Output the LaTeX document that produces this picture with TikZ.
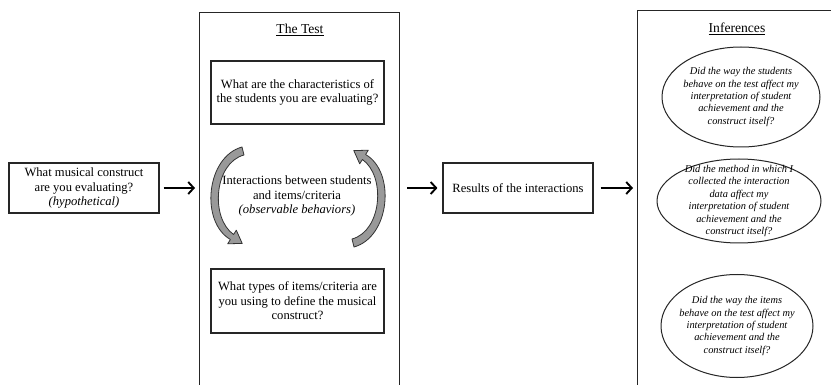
\documentclass[tikz,border=0pt]{standalone}
\usepackage{fontspec}
\setmainfont{Liberation Serif}
\usetikzlibrary{arrows.meta,shapes.geometric}
\begin{document}
\begin{tikzpicture}[x=1pt,y=-1pt,
  box/.style={draw=black!85, line width=1.1pt, fill=white, align=center, font=\fontsize{12.6}{14.6}\selectfont, inner sep=0pt},
  frame/.style={draw=black!85, line width=1.1pt, inner sep=0pt},
  plain/.style={align=center, font=\fontsize{12.6}{14.8}\selectfont},
  ell/.style={draw=black!85, line width=1pt, ellipse, align=center, font=\fontsize{10.4}{12.4}\selectfont\itshape, inner xsep=-40pt, inner ysep=-30pt},
  arr/.style={line width=1.9pt, -{Straight Barb[length=5.5pt,width=12pt]}},
  curv/.style={fill=black!40, draw=black!80, line width=0.8pt, line join=round},
  title/.style={font=\fontsize{13.6}{15}\selectfont}]
\useasboundingbox (0,0) rectangle (831,385);
\clip (0,0) rectangle (831,385);
\fill[white] (0,0) rectangle (831,385);

% left question
\node[box, minimum width=150pt, minimum height=50pt] (q) at (84,188)
  {What musical construct\\are you evaluating?\\\textit{(hypothetical)}};

% The Test frame
\node[frame, minimum width=200pt, minimum height=420pt, anchor=north west] (test) at (199,12) {};
\node[title] (tt) at (300,30) {\underline{The Test}};
\node[box, minimum width=173pt, minimum height=63pt] (b1) at (297.5,92.5)
  {What are the characteristics of\\the students you are evaluating?};
\node[plain] (inter) at (297,196)
  {Interactions between students\\and items/criteria\\\textit{(observable behaviors)}};
\node[box, minimum width=173pt, minimum height=64pt] (b2) at (297.5,301)
  {What types of items/criteria are\\you using to define the musical\\construct?};

% curved arrows
\foreach \r in {0,180} {
  \filldraw[curv, rotate around={\r:(298,197)}]
    (242,147) .. controls (206,157) and (200,222) .. (230.4,239.5)
    -- (227.7,243.8) -- (242.2,243.4) -- (236.3,230.2) -- (233.6,234.5)
    .. controls (210,218) and (214,163) .. (244,155) -- cycle;
}

% results
\node[box, minimum width=150pt, minimum height=50pt] (res) at (518,188)
  {Results of the interactions};

% Inferences frame
\node[frame, minimum width=200pt, minimum height=420pt, anchor=north west] (inf) at (637,10) {};
\node[title] (it) at (737,29) {\underline{Inferences}};
\node[ell, minimum width=158pt, minimum height=100pt] (e1) at (741,97)
  {Did the way the students\\behave on the test affect my\\interpretation of student\\achievement and the\\construct itself?};
\node[ell, minimum width=164pt, minimum height=84pt] (e2) at (739,201)
  {Did the method in which I\\collected the interaction\\data affect my\\interpretation of student\\achievement and the\\construct itself?};
\node[ell, minimum width=152pt, minimum height=103pt] (e3) at (737,326)
  {Did the way the items\\behave on the test affect my\\interpretation of student\\achievement and the\\construct itself?};

% straight arrows
\draw[arr, shorten <=4pt, shorten >=4pt] (q.east) -- (q.east -| test.west);
\draw[arr, shorten <=7pt, shorten >=5pt] (test.east |- res.west) -- (res.west);
\draw[arr, shorten <=7pt, shorten >=4pt] (res.east) -- (res.east -| inf.west);
\end{tikzpicture}
\end{document}
